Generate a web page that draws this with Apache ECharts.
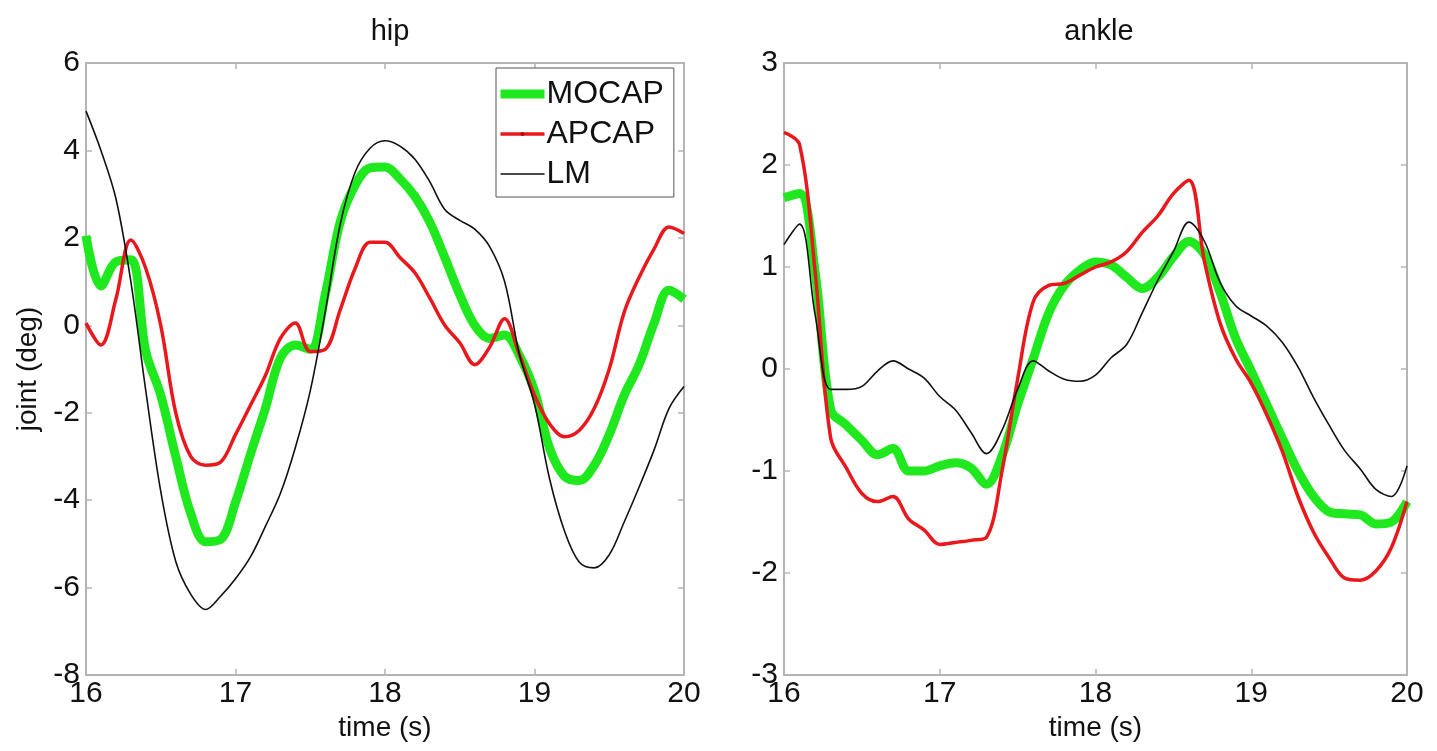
<!DOCTYPE html>
<html>
<head>
<meta charset="utf-8">
<script src="https://cdn.jsdelivr.net/npm/echarts@6/dist/echarts.min.js"></script>
<style>
  html, body { margin: 0; padding: 0; background: #fff; }
  #container { width: 1437px; height: 751px; }
</style>
</head>
<body>
<div id="container"></div>
<script>
var dom = document.getElementById('container');
var myChart = echarts.init(dom);

// time axis, 0.1 s steps from 16 to 20
let timeS = [16.0, 16.1, 16.2, 16.3, 16.4, 16.5, 16.6, 16.7, 16.8, 16.9,
    17.0, 17.1, 17.2, 17.3, 17.4, 17.5, 17.6, 17.7, 17.8, 17.9,
    18.0, 18.1, 18.2, 18.3, 18.4, 18.5, 18.6, 18.7, 18.8, 18.9,
    19.0, 19.1, 19.2, 19.3, 19.4, 19.5, 19.6, 19.7, 19.8, 19.9, 20.0]

// hip (deg)
let hipMocap = [2.05, 0.9, 1.45, 1.5, -0.6, -1.6, -3.0, -4.3, -4.95, -4.9,
    -4.05, -2.95, -1.9, -0.75, -0.45, -0.55, 0.7, 2.36, 3.2, 3.6,
    3.62, 3.35, 2.95, 2.36, 1.55, 0.7, 0.0, -0.3, -0.22, -0.7,
    -1.5, -2.8, -3.45, -3.55, -3.2, -2.5, -1.6, -0.9, 0.05, 0.8, 0.6]
let hipApcap = [0.05, -0.45, 0.6, 1.95, 1.3, 0.0, -2.0, -3.0, -3.2, -3.13,
    -2.5, -1.83, -1.15, -0.3, 0.05, -0.6, -0.55, 0.35, 1.3, 1.9,
    1.9, 1.55, 1.2, 0.62, 0.0, -0.4, -0.9, -0.5, 0.15, -0.68,
    -1.6, -2.25, -2.55, -2.4, -1.9, -1.0, 0.3, 1.1, 1.75, 2.25, 2.1]
let hipLm = [4.9, 4.0, 2.9, 1.0, -1.5, -3.8, -5.4, -6.15, -6.5, -6.2,
    -5.8, -5.3, -4.6, -3.85, -2.8, -1.5, 0.3, 2.3, 3.5, 4.05,
    4.22, 4.1, 3.8, 3.28, 2.65, 2.4, 2.2, 1.8, 1.0, -0.68,
    -1.8, -3.5, -4.7, -5.42, -5.55, -5.25, -4.5, -3.7, -2.85, -1.9, -1.4]

// ankle (deg)
let ankleMocap = [1.68, 1.72, 0.95, -0.4, -0.55, -0.7, -0.84, -0.78, -1.0, -1.0,
    -0.95, -0.92, -0.97, -1.13, -0.85, -0.35, 0.1, 0.55, 0.82, 0.97,
    1.05, 1.02, 0.9, 0.79, 0.9, 1.1, 1.25, 1.12, 0.75, 0.3,
    -0.02, -0.35, -0.68, -1.0, -1.25, -1.4, -1.42, -1.43, -1.52, -1.5, -1.3]
let ankleApcap = [2.32, 2.2, 0.95, -0.68, -0.97, -1.22, -1.3, -1.25, -1.47, -1.58,
    -1.72, -1.7, -1.68, -1.65, -1.0, -0.1, 0.66, 0.82, 0.84, 0.92,
    1.0, 1.05, 1.15, 1.34, 1.5, 1.72, 1.85, 1.05, 0.45, 0.1,
    -0.14, -0.45, -0.81, -1.25, -1.6, -1.85, -2.05, -2.07, -1.98, -1.75, -1.3]
let ankleLm = [1.22, 1.42, 0.53, -0.2, -0.2, -0.17, -0.02, 0.08, 0.0, -0.09,
    -0.27, -0.4, -0.62, -0.83, -0.6, -0.2, 0.08, -0.02, -0.1, -0.12,
    -0.06, 0.11, 0.24, 0.55, 0.87, 1.15, 1.44, 1.25, 0.85, 0.62,
    0.52, 0.42, 0.26, 0.02, -0.28, -0.55, -0.8, -0.98, -1.18, -1.25, -0.95]

let font = "'Liberation Sans', Arial, Helvetica, sans-serif"
let boxColor = '#b4b4b4'
let green = '#1fe81f'
let red = '#e8181c'

function pairs(vals) {
    return timeS.map(function (t, i) { return [t, vals[i]] })
}

function xAx(gi, pos) {
    return {
        type: 'value', gridIndex: gi, position: pos,
        min: 16, max: 20, interval: 1,
        name: pos === 'bottom' ? 'time (s)' : '',
        nameLocation: 'middle', nameGap: 36,
        nameTextStyle: { color: '#111', fontSize: 28, fontFamily: font },
        axisLine: { show: false, onZero: false },
        axisTick: { show: true, inside: true, length: 6, lineStyle: { color: boxColor, width: 1.5 } },
        axisLabel: { show: pos === 'bottom', color: '#111', fontSize: 30, fontFamily: font, margin: 4 },
        splitLine: { show: false }
    }
}

function yAx(gi, pos, mn, mx, step, title) {
    return {
        type: 'value', gridIndex: gi, position: pos,
        min: mn, max: mx, interval: step,
        name: title, nameLocation: 'middle', nameGap: 44, nameRotate: 90,
        nameTextStyle: { color: '#111', fontSize: 28, fontFamily: font },
        axisLine: { show: false, onZero: false },
        axisTick: { show: true, inside: true, length: 6, lineStyle: { color: boxColor, width: 1.5 } },
        axisLabel: { show: pos === 'left', color: '#111', fontSize: 30, fontFamily: font, margin: 6 },
        splitLine: { show: false }
    }
}

function mk(name, gi, vals) {
    let s = {
        name: name,
        type: 'line',
        xAxisIndex: gi,
        yAxisIndex: gi,
        smooth: 0.35,
        symbol: 'none',
        animation: false,
        data: pairs(vals)
    }
    if (name === 'MOCAP') {
        s.lineStyle = { color: green, width: 9 }
        s.itemStyle = { color: green }
    } else if (name === 'APCAP') {
        s.lineStyle = { color: red, width: 3.5 }
        s.itemStyle = { color: '#a01010' }
    } else {
        s.lineStyle = { color: '#111', width: 1.6 }
        s.itemStyle = { color: '#111' }
    }
    return s
}

option = {
    backgroundColor: '#fff',
    textStyle: { fontFamily: font },
    title: [
        { text: 'hip', left: 385, top: 12, textAlign: 'center',
          textStyle: { color: '#111', fontSize: 29, fontWeight: 'normal', fontFamily: font } },
        { text: 'ankle', left: 1094, top: 12, textAlign: 'center',
          textStyle: { color: '#111', fontSize: 29, fontWeight: 'normal', fontFamily: font } }
    ],
    legend: {
        data: [
            { name: 'MOCAP', itemStyle: { opacity: 0 }, lineStyle: { color: green, width: 9 } },
            { name: 'APCAP', itemStyle: { color: '#a01010' }, lineStyle: { color: red, width: 3.5 } },
            { name: 'LM', itemStyle: { opacity: 0 }, lineStyle: { color: '#111', width: 1.6 } }
        ],
        orient: 'vertical',
        left: 496,
        top: 68,
        padding: [10, 10, 7, 0],
        itemWidth: 44,
        itemHeight: 5,
        itemGap: 8,
        backgroundColor: '#fff',
        borderColor: '#555',
        borderWidth: 1,
        borderRadius: 0,
        textStyle: { color: '#111', fontSize: 32, fontFamily: font, lineHeight: 32, padding: [0, 0, 0, -3] }
    },
    grid: [
        { left: 86, top: 63, width: 598, height: 612, show: true, borderColor: boxColor, borderWidth: 2, backgroundColor: '#fff' },
        { left: 784, top: 63, width: 623, height: 612, show: true, borderColor: boxColor, borderWidth: 2, backgroundColor: '#fff' }
    ],
    xAxis: [xAx(0, 'bottom'), xAx(1, 'bottom'), xAx(0, 'top'), xAx(1, 'top')],
    yAxis: [
        yAx(0, 'left', -8, 6, 2, 'joint (deg)'),
        yAx(1, 'left', -3, 3, 1, ''),
        yAx(0, 'right', -8, 6, 2, ''),
        yAx(1, 'right', -3, 3, 1, '')
    ],
    series: [
        mk('MOCAP', 0, hipMocap),
        mk('APCAP', 0, hipApcap),
        mk('LM', 0, hipLm),
        mk('MOCAP', 1, ankleMocap),
        mk('APCAP', 1, ankleApcap),
        mk('LM', 1, ankleLm)
    ]
};
myChart.setOption(option);

window.addEventListener("resize", function () {
    myChart.resize();
});
</script>
</body>
</html>
